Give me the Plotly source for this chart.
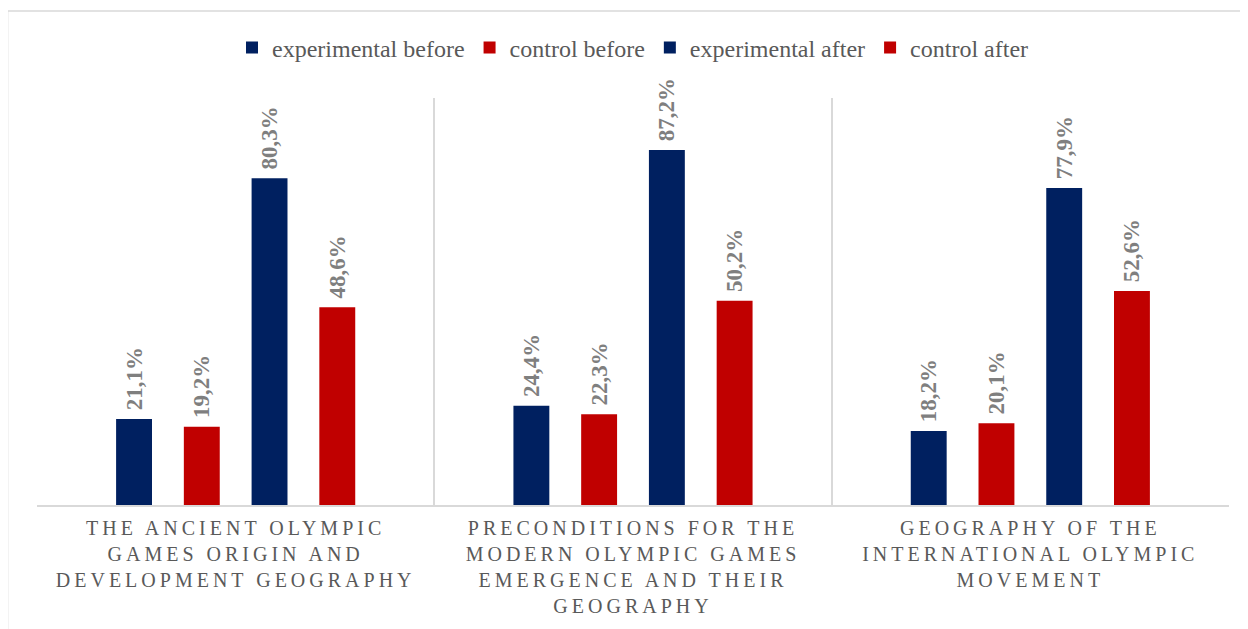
import plotly.graph_objects as go

categories = [
    "THE ANCIENT OLYMPIC<br>GAMES ORIGIN AND<br>DEVELOPMENT GEOGRAPHY",
    "PRECONDITIONS FOR THE<br>MODERN OLYMPIC GAMES<br>EMERGENCE AND THEIR<br>GEOGRAPHY",
    "GEOGRAPHY OF THE<br>INTERNATIONAL OLYMPIC<br>MOVEMENT",
]
series_names = ["experimental before", "control before", "experimental after", "control after"]
series_colors = ["#002060", "#C00000", "#002060", "#C00000"]
exp_before = [21.1, 24.4, 18.2]
ctrl_before = [19.2, 22.3, 20.1]
exp_after = [80.3, 87.2, 77.9]
ctrl_after = [48.6, 50.2, 52.6]
series_values = [exp_before, ctrl_before, exp_after, ctrl_after]

xpos = list(range(len(categories)))

fig = go.Figure()
for name, color, vals in zip(series_names, series_colors, series_values):
    fig.add_trace(go.Bar(
        x=xpos, y=vals, name=name,
        marker=dict(color=color, line=dict(width=0)),
        text=[(" " + f"{v:.1f}%".replace(".", ",")) for v in vals],
        textposition="outside", textangle=-90, constraintext="none",
        cliponaxis=False,
        textfont=dict(family="Liberation Serif", size=23, color="#7F7F7F", weight="bold"),
        hoverinfo="skip",
    ))

fig.update_layout(
    width=1240, height=621,
    margin=dict(l=29, r=19, t=90, b=124),
    paper_bgcolor="white", plot_bgcolor="white",
    barmode="group", bargap=0.318, bargroupgap=0.47,
    font=dict(family="Liberation Serif", color="#595959"),
    legend=dict(orientation="h", x=0.5, xanchor="center", y=1.123, yanchor="middle",
                font=dict(family="Liberation Serif", size=24, color="#595959"),
                itemwidth=30, traceorder="normal"),
    xaxis=dict(range=[-0.5, 2.5], tickvals=xpos, ticktext=categories,
               tickfont=dict(family="Liberation Serif", size=20, color="#595959"),
               showgrid=False, zeroline=False, showline=True, linecolor="#D9D9D9", linewidth=1.5,
               ticks="", ticklabelstandoff=4,
               minor=dict(tickvals=[-0.5, 0.5, 1.5, 2.5], showgrid=True,
                          gridcolor="#D9D9D9", gridwidth=1.5, ticks="")),
    yaxis=dict(range=[0, 100], visible=False, showgrid=False, zeroline=False),
    shapes=[dict(type="rect", xref="paper", yref="paper",
                 x0=-0.0247, x1=1.02, y0=-0.32, y1=1.2138,
                 line=dict(color="#D9D9D9", width=1.5), fillcolor="rgba(0,0,0,0)", layer="below")],
)

post = """
var els = document.querySelectorAll('.xtick text');
els.forEach(function(t){ t.style.letterSpacing = '4px'; });
"""
fig.write_html("out.html", post_script=post)
